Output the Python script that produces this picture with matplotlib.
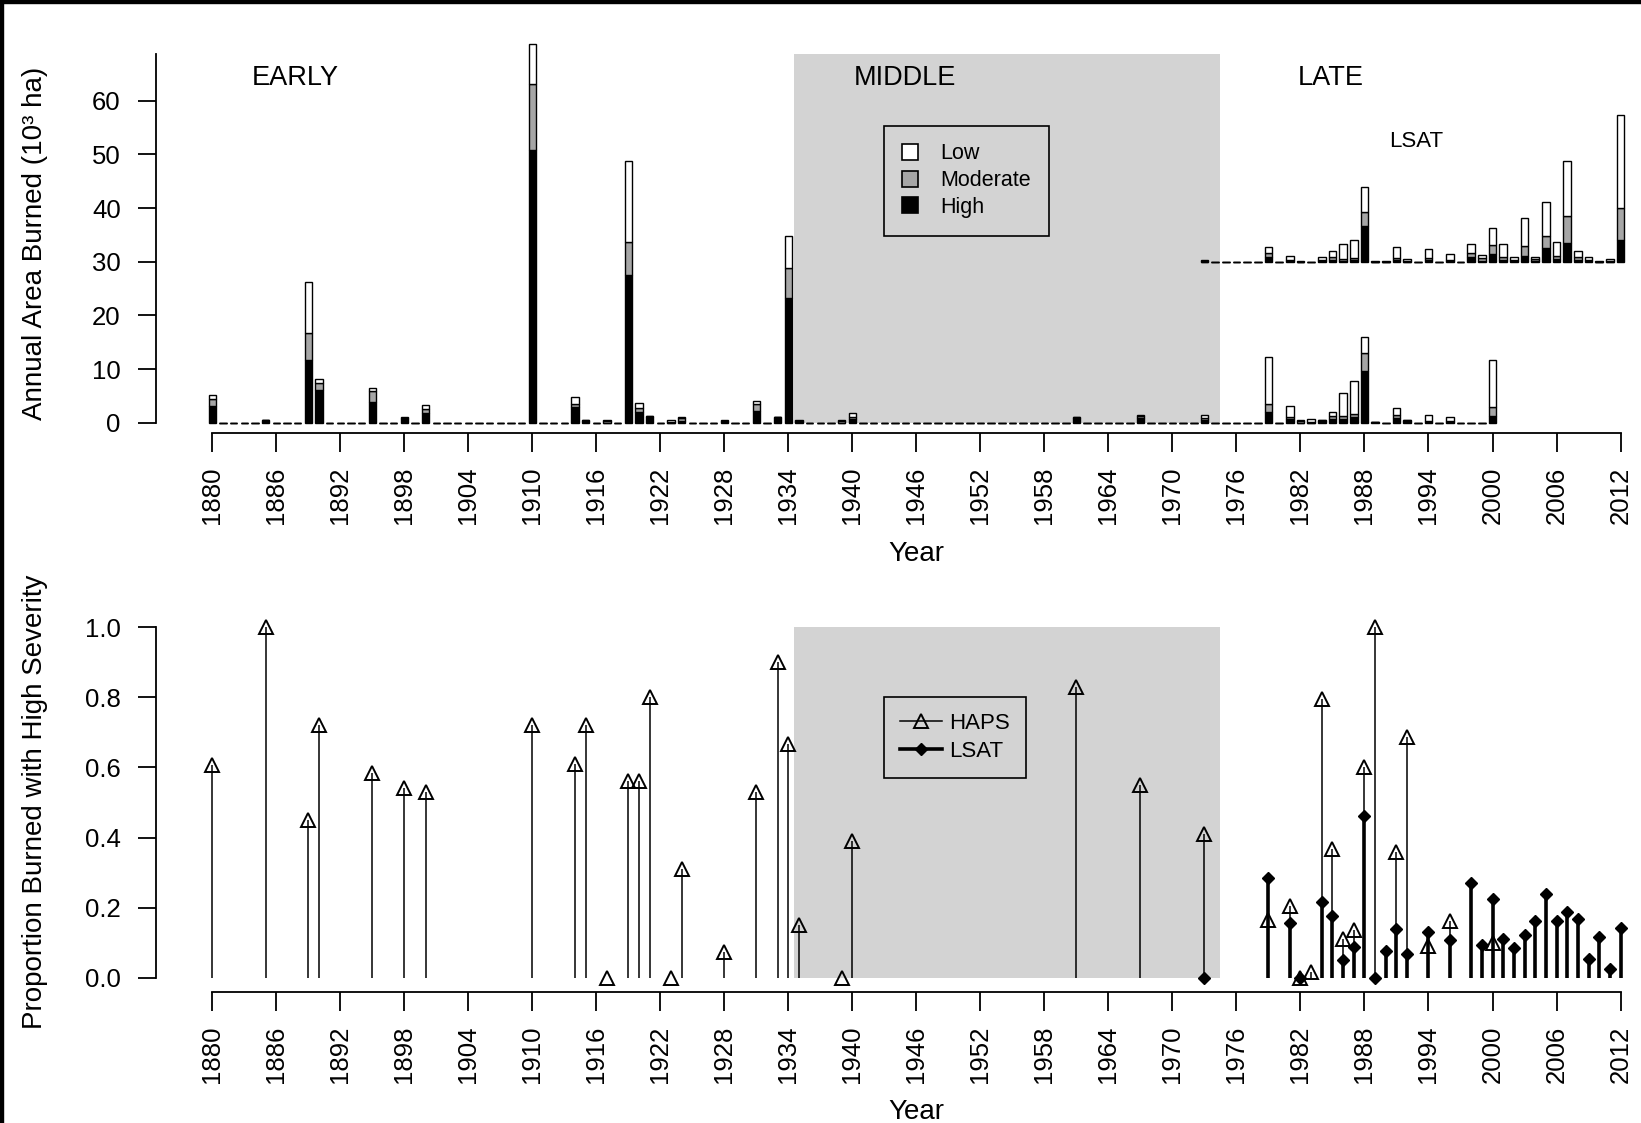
import numpy as np
import matplotlib
matplotlib.use('Agg')
import matplotlib.pyplot as plt
from matplotlib.patches import Rectangle
from matplotlib.lines import Line2D

plt.rcParams['font.family'] = ['Liberation Sans', 'DejaVu Sans']

# ---- annual area burned (10^3 ha), HAPS record 1880-2000 ----
haps_years = [1880, 1885, 1889, 1890, 1895, 1898, 1900, 1910, 1914, 1915,
              1917, 1919, 1920, 1921, 1923, 1924, 1928, 1931, 1933, 1934,
              1935, 1939, 1940, 1961, 1967, 1973, 1979, 1981, 1982, 1983,
              1984, 1985, 1986, 1987, 1988, 1989, 1991, 1992, 1994, 1996, 2000]
haps_high = [3.15, 0.5, 11.7, 6.1, 3.8, 0.6, 1.75, 50.9, 2.95, 0.36,
             0.0, 27.5, 2.0, 1.05, 0.0, 0.35, 0.04, 2.1, 1.0, 23.2,
             0.08, 0.0, 0.7, 0.9, 0.8, 0.55, 2.0, 0.62, 0.0, 0.01,
             0.4, 0.75, 0.62, 1.05, 9.7, 0.1, 0.95, 0.35, 0.13, 0.18, 1.2]
haps_mod = [1.2, 0.0, 5.1, 1.25, 2.1, 0.25, 0.8, 12.2, 0.5, 0.1,
            0.3, 6.1, 0.8, 0.15, 0.2, 0.45, 0.26, 1.4, 0.1, 5.6,
            0.22, 0.3, 0.3, 0.15, 0.5, 0.25, 1.5, 0.5, 0.3, 0.04,
            0.1, 0.45, 0.6, 0.5, 3.2, 0.0, 0.55, 0.1, 0.2, 0.12, 1.8]
haps_low = [0.8, 0.0, 9.4, 0.75, 0.6, 0.25, 0.75, 7.4, 1.4, 0.04,
            0.2, 15.1, 0.8, 0.1, 0.3, 0.3, 0.2, 0.5, 0.0, 5.9,
            0.2, 0.2, 0.75, 0.05, 0.2, 0.6, 8.8, 1.9, 0.2, 0.7,
            0.0, 0.85, 4.4, 6.25, 3.0, 0.0, 1.2, 0.05, 1.07, 0.8, 8.7]

# ---- annual area burned, LSAT record 1973-2012 (drawn offset by 30) ----
lsat_years = [1973, 1979, 1981, 1982, 1984, 1985, 1986, 1987, 1988, 1989,
              1990, 1991, 1992, 1994, 1996, 1998, 1999, 2000, 2001, 2002,
              2003, 2004, 2005, 2006, 2007, 2008, 2009, 2010, 2011, 2012]
lsat_high = [0.0, 0.8, 0.17, 0.0, 0.17, 0.36, 0.16, 0.35, 6.65, 0.0,
             0.004, 0.37, 0.03, 0.31, 0.15, 0.9, 0.11, 1.43, 0.36, 0.07,
             1.0, 0.13, 2.63, 0.59, 3.5, 0.34, 0.04, 0.012, 0.01, 4.0]
lsat_mod = [0.15, 0.9, 0.2, 0.0, 0.2, 0.45, 0.3, 0.3, 2.7, 0.0,
            0.01, 0.4, 0.17, 0.35, 0.25, 0.7, 0.5, 1.6, 0.5, 0.3,
            1.9, 0.3, 2.2, 0.5, 5.1, 0.5, 0.3, 0.0, 0.2, 6.0]
lsat_low = [0.25, 1.1, 0.73, 0.05, 0.43, 1.24, 2.84, 3.35, 4.65, 0.05,
            0.04, 1.93, 0.3, 1.69, 1.0, 1.7, 0.59, 3.27, 2.44, 0.43,
            5.3, 0.37, 6.2, 2.5, 10.2, 1.2, 0.46, 0.088, 0.29, 17.3]

# ---- proportion burned with high severity ----
haps_prop = [0.607, 1.0, 0.45, 0.72, 0.585, 0.54, 0.53, 0.72, 0.61, 0.72,
             0.0, 0.56, 0.56, 0.80, 0.0, 0.31, 0.074, 0.53, 0.90, 0.667,
             0.15, 0.0, 0.39, 0.83, 0.55, 0.41, 0.165, 0.205, 0.0, 0.015,
             0.795, 0.366, 0.11, 0.136, 0.60, 1.0, 0.358, 0.688, 0.09, 0.162, 0.10]
lsat_prop = [0.0, 0.284, 0.157, 0.0, 0.217, 0.176, 0.05, 0.087, 0.462, 0.0,
             0.077, 0.138, 0.067, 0.131, 0.108, 0.271, 0.093, 0.226, 0.11, 0.084,
             0.122, 0.163, 0.238, 0.163, 0.187, 0.167, 0.053, 0.117, 0.025, 0.143]

haps_span = np.arange(1880, 2001)
lsat_span = np.arange(1973, 2013)
LSAT_OFFSET = 30
MIDDLE = (1934.5, 1974.5)
GRAY = '#a6a6a6'
SHADE = '#d3d3d3'


def fill(span, years, vals):
    out = np.zeros(len(span))
    out[np.searchsorted(span, years)] = vals
    return out


def stack(ax, span, years, high, mod, low, base=0):
    h = fill(span, years, high)
    m = fill(span, years, mod)
    l = fill(span, years, low)
    kw = dict(width=0.7, edgecolor='black', linewidth=1.0, zorder=2)
    ax.bar(span, h, bottom=base, color='black', **kw)
    ax.bar(span, m, bottom=base + h, color=GRAY, **kw)
    ax.bar(span, l, bottom=base + h + m, color='white', **kw)


W, H = 1641, 1123
fig = plt.figure(figsize=(W / 100, H / 100), dpi=100)


def px_axes(left, top, right, bottom):
    return fig.add_axes([left / W, 1 - bottom / H, (right - left) / W, (bottom - top) / H])


def style(ax, ytop):
    for s in ['top', 'right']:
        ax.spines[s].set_visible(False)
    for s in ['bottom', 'left']:
        ax.spines[s].set_linewidth(1.3)
    ax.spines['bottom'].set_bounds(1880, 2012)
    ax.spines['left'].set_bounds(0, ytop)
    ax.set_xticks(range(1880, 2013, 6))
    ax.tick_params(axis='x', length=13.7, width=1.3, pad=10.5, labelsize=18.5, labelrotation=90)
    ax.tick_params(axis='y', length=13.2, width=1.3, pad=12, labelsize=18.5)
    ax.set_xlim(1874.69, 2013.92)


# ---------------- top panel ----------------
ax1 = px_axes(155.7, 20, 1641, 432.7)
style(ax1, 68.64)
ax1.set_ylim(-1.863, 75.03)
ax1.set_yticks(range(0, 61, 10))
ax1.add_patch(Rectangle((MIDDLE[0], 0), MIDDLE[1] - MIDDLE[0], 68.64,
                        facecolor=SHADE, edgecolor='none', zorder=0))
stack(ax1, haps_span, haps_years, haps_high, haps_mod, haps_low)
stack(ax1, lsat_span, lsat_years, lsat_high, lsat_mod, lsat_low, base=LSAT_OFFSET)

ax1.text(1887.8, 64.2, 'EARLY', fontsize=19.5, ha='center', va='center')
ax1.text(1944.9, 64.2, 'MIDDLE', fontsize=19.5, ha='center', va='center')
ax1.text(1984.8, 64.2, 'LATE', fontsize=19.5, ha='center', va='center')
ax1.text(1992.8, 52.3, 'LSAT', fontsize=16, ha='center', va='center')

sev_handles = [Line2D([], [], ls='none', marker='s', ms=11.5, mfc=c, mec='black', mew=1.2)
               for c in ['white', GRAY, 'black']]
leg1 = ax1.legend(sev_handles, ['Low', 'Moderate', 'High'], loc='upper left',
                  bbox_to_anchor=(884 / W, 1 - 125.6 / H), bbox_transform=fig.transFigure,
                  fancybox=False, edgecolor='black', facecolor='none', framealpha=1,
                  fontsize=15.5, borderpad=0.82, handlelength=0.8, handletextpad=1.0,
                  labelspacing=0.27, borderaxespad=0)
leg1.get_frame().set_linewidth(1.2)

ax1.set_ylabel('Annual Area Burned (10\u00b3 ha)', fontsize=20)
ax1.yaxis.set_label_coords(-0.0728, 0.4597)
ax1.set_xlabel('Year', fontsize=20)
ax1.xaxis.set_label_coords(0.512, -0.263)

# ---------------- bottom panel ----------------
ax2 = px_axes(155.7, 580, 1641, 991.7)
style(ax2, 1.0)
ax2.set_ylim(-0.03995, 1.135)
ax2.set_yticks(np.arange(0, 1.01, 0.2))
ax2.set_yticklabels(['0.0', '0.2', '0.4', '0.6', '0.8', '1.0'])
ax2.add_patch(Rectangle((MIDDLE[0], 0), MIDDLE[1] - MIDDLE[0], 1.0,
                        facecolor=SHADE, edgecolor='none', zorder=0))

ax2.vlines(haps_years, 0, haps_prop, colors='black', linewidth=1.1, zorder=2)
ax2.plot(haps_years, haps_prop, ls='none', marker='^', ms=10, mfc='none', mec='black',
         mew=1.4, zorder=3, clip_on=False)
ax2.vlines(lsat_years, 0, lsat_prop, colors='black', linewidth=2.6, zorder=4)
ax2.plot(lsat_years, lsat_prop, ls='none', marker='D', ms=6, color='black',
         zorder=5, clip_on=False)

src_handles = [Line2D([], [], color='black', lw=1.1, marker='^', ms=10, mfc='none', mew=1.4),
               Line2D([], [], color='black', lw=2.6, marker='D', ms=6)]
leg2 = ax2.legend(src_handles, ['HAPS', 'LSAT'], loc='upper left',
                  bbox_to_anchor=(884 / W, 1 - 697 / H), bbox_transform=fig.transFigure,
                  fancybox=False, edgecolor='black', facecolor='none', framealpha=1,
                  fontsize=16, borderpad=0.72, handlelength=1.9, handletextpad=0.3,
                  labelspacing=0.31, borderaxespad=0)
leg2.get_frame().set_linewidth(1.2)

ax2.set_ylabel('Proportion Burned with High Severity', fontsize=20)
ax2.yaxis.set_label_coords(-0.0728, 0.4608)
ax2.set_xlabel('Year', fontsize=20)
ax2.xaxis.set_label_coords(0.512, -0.261)

# black border along the top and left edge of the original image
fig.add_artist(Rectangle((0, 1 - 3 / H), 1, 3 / H, transform=fig.transFigure, color='black'))
fig.add_artist(Rectangle((0, 0), 3 / W, 1, transform=fig.transFigure, color='black'))

fig.savefig('out.png', dpi=100)
